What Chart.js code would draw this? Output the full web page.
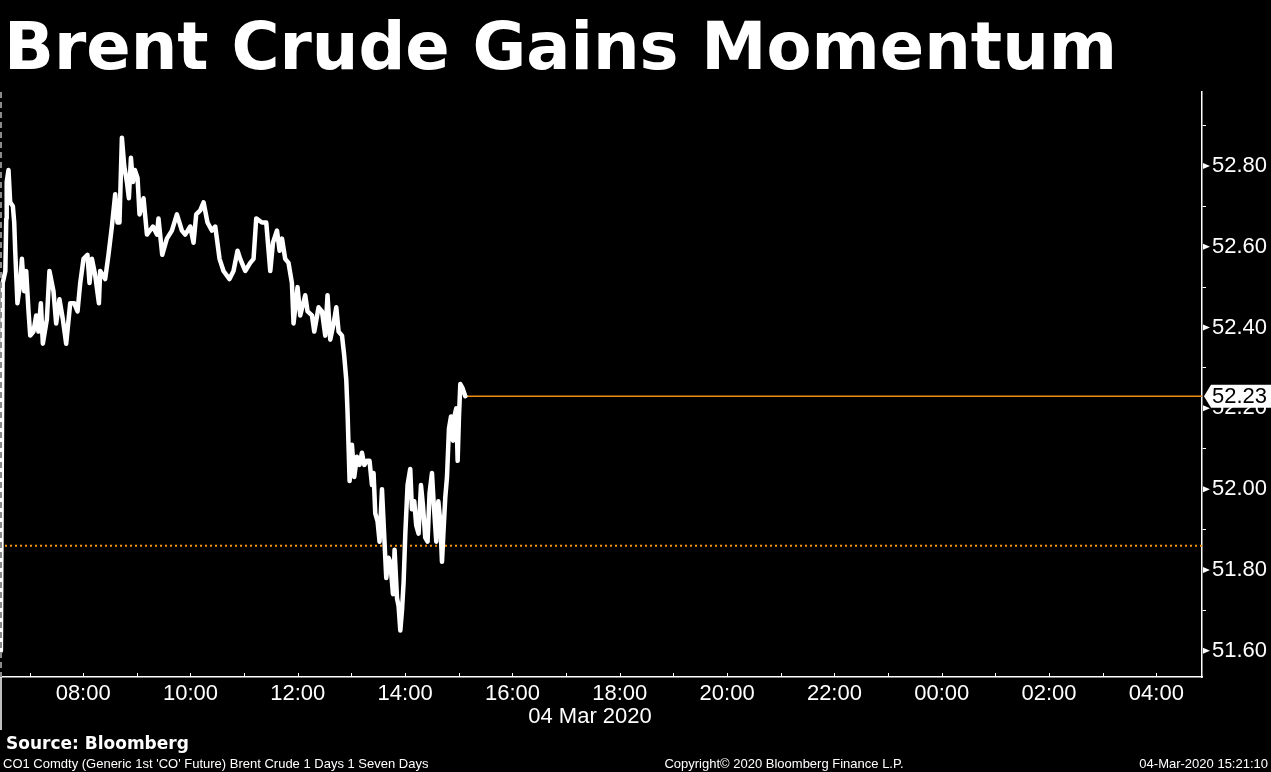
<!DOCTYPE html>
<html>
<head>
<meta charset="utf-8">
<script src="https://cdn.jsdelivr.net/npm/chart.js@4.4.1/dist/chart.umd.min.js"></script>
<style>
  html, body { margin: 0; padding: 0; background: #000; }
  #wrap { position: relative; width: 1271px; height: 772px; }
</style>
</head>
<body>
<div id="wrap"><canvas id="chart" width="1271" height="772"></canvas></div>
<script>
// --- data (time = minutes after midnight, 04 Mar 2020) ---
const titleText = 'Brent Crude Gains Momentum';
const minutes = [
  388, 390, 393, 394, 394.5, 396.5, 398.4, 401.4, 402.9, 404,
  406.5, 409.6, 411.5, 414, 416.3, 418.9, 420.8, 424.4, 427.5, 430,
  432.7, 434.9, 439.4, 442.3, 446.8, 449.8, 453.5, 457.3, 461, 465.5,
  470, 473.7, 476.7, 480.4, 484.8, 487.1, 489.8, 493.4, 497.6, 499,
  504.6, 508.3, 512.1, 515.8, 518.4, 520.6, 523.3, 525.9, 528.9, 531.1,
  533.4, 535.6, 537.8, 540.8, 543, 547.5, 551.3, 558, 562.5, 564.2,
  568.4, 573.6, 579.2, 584.8, 590.4, 594.1, 599.7, 603.4, 606.4, 610.9,
  614.6, 619, 624, 627.7, 632.5, 636.9, 643.6, 648.1, 652.6, 655.6,
  661.2, 666.8, 670.5, 673.5, 679.9, 684.7, 689.2, 692.2, 696.7, 699.6,
  702.3, 705.9, 709.6, 713.4, 715.2, 719.7, 722.7, 728.3, 730.9, 735.8,
  738.4, 743.2, 747, 750.7, 753.2, 756.3, 760, 763, 765.6, 769.4,
  771.9, 774.2, 775.6, 777.9, 780.5, 783.1, 786.1, 789, 791.7, 794.3,
  797.3, 800.2, 802.9, 804.7, 806.6, 809.2, 811.4, 814.1, 816.7, 818.9,
  821.5, 823.4, 826.4, 828.2, 830.9, 832.7, 834.6, 836.5, 838.3, 840.2,
  842.7, 845.7, 847.6, 850.2, 852.4, 855, 857.7, 859.9, 862.5, 865.1,
  867.3, 870, 871.8, 874.8, 877.1, 879.3, 881.2, 883, 884.9, 886.8,
  889, 891.3, 893.5, 895, 897.2, 898.7, 900.2, 901.7, 904.2, 907.3
];
const prices = [
  51.60, 52.51, 52.54, 52.67, 52.76, 52.79, 52.71, 52.70, 52.66, 52.59,
  52.46, 52.51, 52.57, 52.49, 52.54, 52.44, 52.38, 52.39, 52.43, 52.39,
  52.46, 52.36, 52.42, 52.54, 52.49, 52.41, 52.47, 52.42, 52.36, 52.46,
  52.46, 52.44, 52.51, 52.57, 52.58, 52.51, 52.57, 52.53, 52.46, 52.54,
  52.52, 52.58, 52.65, 52.73, 52.66, 52.66, 52.87, 52.80, 52.76, 52.72,
  52.82, 52.76, 52.79, 52.77, 52.68, 52.72, 52.63, 52.65, 52.63, 52.67,
  52.58, 52.62, 52.64, 52.68, 52.64, 52.63, 52.65, 52.61, 52.68, 52.69,
  52.71, 52.66, 52.64, 52.65, 52.57, 52.54, 52.52, 52.54, 52.59, 52.57,
  52.54, 52.56, 52.57, 52.67, 52.66, 52.66, 52.54, 52.61, 52.64, 52.59,
  52.62, 52.57, 52.56, 52.51, 52.41, 52.50, 52.43, 52.48, 52.44, 52.43,
  52.39, 52.45, 52.44, 52.38, 52.48, 52.37, 52.41, 52.45, 52.39, 52.38,
  52.33, 52.27, 52.19, 52.02, 52.11, 52.03, 52.08, 52.06, 52.09, 52.06,
  52.07, 52.07, 52.01, 52.04, 51.94, 51.92, 51.87, 52.00, 51.88, 51.78,
  51.83, 51.82, 51.74, 51.85, 51.73, 51.71, 51.65, 51.70, 51.77, 51.89,
  52.01, 52.05, 51.95, 51.97, 51.91, 51.89, 52.01, 51.96, 51.88, 51.87,
  51.99, 52.04, 51.97, 51.87, 51.97, 51.92, 51.82, 51.90, 51.98, 52.03,
  52.15, 52.18, 52.12, 52.18, 52.20, 52.07, 52.18, 52.26, 52.25, 52.23
];
const lastPrice = 52.23;
const refPrice = 51.86;          // dotted orange reference level
const viewStart = 387;           // ~06:27
const viewEnd = 1731;            // ~04:51 next day
const tickHours = [7, 8, 9, 10, 11, 12, 13, 14, 15, 16, 17, 18, 19, 20, 21, 22, 23, 24, 25, 26, 27, 28];
const priceTicks = [51.6, 51.7, 51.8, 51.9, 52.0, 52.1, 52.2, 52.3, 52.4, 52.5, 52.6, 52.7, 52.8, 52.9];
const priceMin = 51.535, priceMax = 52.983;
const dateLabel = '04 Mar 2020';
const sourceText = 'Source: Bloomberg';
const footLeft = "CO1 Comdty (Generic 1st 'CO' Future) Brent Crude 1 Days 1 Seven Days";
const footMid = 'Copyright\u00a9 2020 Bloomberg Finance L.P.';
const footRight = '04-Mar-2020 15:21:10';

const tickFont = { family: '"Liberation Sans", Arial, sans-serif', size: 22 };
const isMajor = v => Math.round(v * 10) % 2 === 0;
const pad2 = n => String(n).padStart(2, '0');

const extras = {
  id: 'extras',
  afterDraw(chart) {
    const { ctx, chartArea: a, scales: { x, y } } = chart;
    ctx.save();

    // title
    ctx.fillStyle = '#fff';
    ctx.font = 'bold 65.5px "DejaVu Sans", sans-serif';
    ctx.textBaseline = 'alphabetic';
    ctx.textAlign = 'left';
    ctx.fillText(titleText, 4, 69);

    // left dashed session boundary
    ctx.strokeStyle = '#8a8a8a';
    ctx.lineWidth = 2;
    ctx.setLineDash([6, 4]);
    ctx.beginPath();
    ctx.moveTo(1, a.top);
    ctx.lineTo(1, a.bottom);
    ctx.stroke();
    ctx.setLineDash([]);

    // small day marker below x axis
    ctx.strokeStyle = '#fff';
    ctx.lineWidth = 1.5;
    ctx.beginPath();
    ctx.moveTo(1, a.bottom);
    ctx.lineTo(1, a.bottom + 53);
    ctx.stroke();

    // hourly ticks pointing up into the plot
    ctx.lineWidth = 1;
    tickHours.forEach(h => {
      const px = Math.round(x.getPixelForValue(h * 60)) + 0.5;
      ctx.beginPath();
      ctx.moveTo(px, a.bottom);
      ctx.lineTo(px, a.bottom - 4);
      ctx.stroke();
    });

    // triangles on major y ticks
    ctx.fillStyle = '#fff';
    priceTicks.filter(isMajor).forEach(v => {
      const py = y.getPixelForValue(v);
      ctx.beginPath();
      ctx.moveTo(a.right + 1, py - 3);
      ctx.lineTo(a.right + 8, py);
      ctx.lineTo(a.right + 1, py + 3);
      ctx.closePath();
      ctx.fill();
    });

    // last price tag
    const ly = y.getPixelForValue(lastPrice);
    ctx.fillStyle = '#fff';
    ctx.beginPath();
    ctx.moveTo(a.right + 2, ly);
    ctx.lineTo(a.right + 9, ly - 11.5);
    ctx.lineTo(chart.width, ly - 11.5);
    ctx.lineTo(chart.width, ly + 11.5);
    ctx.lineTo(a.right + 9, ly + 11.5);
    ctx.closePath();
    ctx.fill();
    ctx.fillStyle = '#000';
    ctx.font = `${tickFont.size}px ${tickFont.family}`;
    ctx.textBaseline = 'middle';
    ctx.fillText(lastPrice.toFixed(2), a.right + 10, ly + 1);

    // date under the time axis
    ctx.fillStyle = '#fff';
    ctx.textAlign = 'center';
    ctx.fillText(dateLabel, 590, 717);

    // source and footer
    ctx.textAlign = 'left';
    ctx.textBaseline = 'alphabetic';
    ctx.font = 'bold 17px "DejaVu Sans", sans-serif';
    ctx.fillText(sourceText, 6, 749);
    ctx.font = '13px "Liberation Sans", Arial, sans-serif';
    ctx.fillText(footLeft, 3, 768);
    ctx.textAlign = 'center';
    ctx.fillText(footMid, 784, 768);
    ctx.textAlign = 'right';
    ctx.fillText(footRight, 1268, 768);
    ctx.restore();
  }
};

new Chart(document.getElementById('chart'), {
  type: 'line',
  data: {
    datasets: [
      {
        data: minutes.map((m, i) => ({ x: m, y: prices[i] })),
        borderColor: '#ffffff',
        borderWidth: 4.5,
        borderJoinStyle: 'round',
        borderCapStyle: 'round',
        pointRadius: 0,
        tension: 0
      },
      {
        data: [{ x: minutes[minutes.length - 1], y: lastPrice }, { x: viewEnd, y: lastPrice }],
        borderColor: '#f28c12',
        borderWidth: 1.5,
        pointRadius: 0
      },
      {
        data: [{ x: viewStart, y: refPrice }, { x: viewEnd, y: refPrice }],
        borderColor: '#f5940f',
        borderWidth: 2,
        borderDash: [2, 3],
        pointRadius: 0
      }
    ]
  },
  options: {
    responsive: false,
    animation: false,
    layout: { padding: { top: 92, bottom: 40, left: 0, right: 0 } },
    plugins: { legend: { display: false }, tooltip: { enabled: false } },
    scales: {
      x: {
        type: 'linear',
        min: viewStart,
        max: viewEnd,
        afterBuildTicks: s => { s.ticks = tickHours.map(h => ({ value: h * 60 })); },
        afterFit: s => { s.height = 55; },
        ticks: {
          autoSkip: false,
          maxRotation: 0,
          color: '#ffffff',
          font: tickFont,
          padding: 4,
          callback: v => (v / 60) % 2 === 0 ? pad2((v / 60) % 24) + ':00' : ''
        },
        grid: { drawOnChartArea: false, drawTicks: false },
        border: { color: '#ffffff', width: 1.5 }
      },
      y: {
        position: 'right',
        min: priceMin,
        max: priceMax,
        afterBuildTicks: s => { s.ticks = priceTicks.map(v => ({ value: v })); },
        afterFit: s => { s.width = 69; },
        ticks: {
          color: '#ffffff',
          font: tickFont,
          padding: 6,
          callback: v => isMajor(v) ? v.toFixed(2) : ''
        },
        grid: {
          drawOnChartArea: false,
          tickLength: 4,
          color: c => (c.tick && isMajor(c.tick.value)) ? 'rgba(0,0,0,0)' : '#ffffff'
        },
        border: { color: '#ffffff', width: 1.5 }
      }
    }
  },
  plugins: [extras]
});
</script>
</body>
</html>
